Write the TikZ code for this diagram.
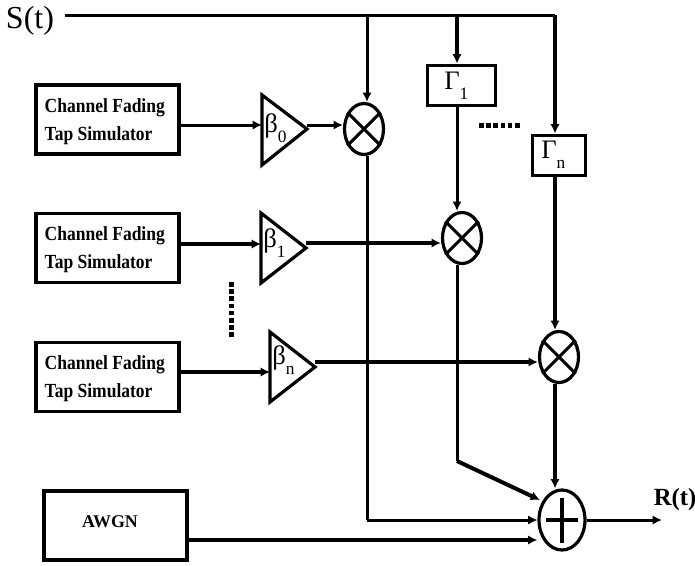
\documentclass[tikz,border=0pt]{standalone}
\usepackage{fontspec}
\setmainfont{Liberation Serif}
\usetikzlibrary{arrows.meta,shapes.geometric,calc}
\newdimen\px \px=0.75pt
\newcommand{\sbs}[1]{\raisebox{-0.38em}{\fontsize{13}{13}\selectfont #1}}
\tikzset{
  conn/.style={line width=3\px, line join=miter},
  heavy/.style={line width=4\px},
  arr/.style={-{Latex[length=7pt,width=7pt]}},
  tapbox/.style={draw, line width=3.2\px, minimum width=143\px, minimum height=69\px, inner sep=0pt},
  tapname/.style={font=\fontsize{15}{21}\selectfont\bfseries, align=left, inner sep=0pt, anchor=west, xscale=0.875, transform shape},
  gainbox/.style={draw, line width=3\px, inner sep=0pt},
  mult/.style={draw, ellipse, line width=3.2\px, inner sep=0pt, minimum width=39\px, minimum height=51\px},
  gain/.style={draw, line width=3.2\px, line join=miter},
  gainlab/.style={font=\fontsize{20}{20}\selectfont, inner sep=0pt, anchor=west},
  dotted line/.style={line width=5\px, dash pattern=on 4.6\px off 2.6\px},
}
\begin{document}
\begin{tikzpicture}[x=0.75pt,y=-0.75pt]
\useasboundingbox (0,0) rectangle (695,565);
\clip (0,0) rectangle (695,565);
% Boxes
\node[tapbox] (t0) at (107.5,119.5) {};
\node[tapbox] (t1) at (107.5,248) {};
\node[tapbox] (t2) at (107.5,377) {};
\node[tapbox] (awgn) at (115.5,525.5) {};
\node[tapname] (t0l) at (44.5,122) {Channel Fading\\Tap Simulator};
\node[tapname] (t1l) at (44.5,250) {Channel Fading\\Tap Simulator};
\node[tapname] (t2l) at (44.5,379) {Channel Fading\\Tap Simulator};
\node[font=\fontsize{13.4}{13.4}\selectfont\bfseries, inner sep=0pt] (awgnl) at (110,522) {AWGN};
\node[gainbox, minimum width=68\px, minimum height=40\px] (g1) at (461,85) {};
\node[gainbox, minimum width=53\px, minimum height=40\px] (gn) at (558.5,155) {};
\node[gainlab] (g1l) at (444,86) {Γ\sbs{1}};
\node[gainlab] (gnl) at (541,155) {Γ\sbs{n}};
% Amplifier triangles
\coordinate (b0a) at (262,95); \coordinate (b0b) at (262,165); \coordinate (b0t) at (307,129);
\coordinate (b1a) at (261,213); \coordinate (b1b) at (261,283); \coordinate (b1t) at (306,248);
\coordinate (b2a) at (270,332); \coordinate (b2b) at (270,402); \coordinate (b2t) at (315,367);
\draw[gain] (b0a) -- (b0t) -- (b0b) -- cycle;
\draw[gain] (b1a) -- (b1t) -- (b1b) -- cycle;
\draw[gain] (b2a) -- (b2t) -- (b2b) -- cycle;
\node[gainlab] (b0l) at (264,128) {β\sbs{0}};
\node[gainlab] (b1l) at (263,243) {β\sbs{1}};
\node[gainlab] (b2l) at (272,360) {β\sbs{n}};
% Multipliers
\node[mult] (m0) at (364,129) {};
\node[mult] (m1) at (462,238) {};
\node[mult] (m2) at (559,357) {};
\draw[conn] (m0.45) -- (m0.225) (m0.135) -- (m0.315);
\draw[conn] (m1.45) -- (m1.225) (m1.135) -- (m1.315);
\draw[conn] (m2.45) -- (m2.225) (m2.135) -- (m2.315);
% Summer
\node[mult, minimum width=46\px, minimum height=60\px] (sum) at (562,520) {};
\draw[line width=4.6\px] ($(sum.center)+(-16,0)$) -- ($(sum.center)+(16,0)$);
\draw[line width=4.6\px] ($(sum.center)+(0,-22)$) -- ($(sum.center)+(0,23)$);
% Labels
\node[font=\fontsize{24}{24}\selectfont, inner sep=0pt] (st) at (30,21) {S(t)};
\node[font=\fontsize{18.5}{18.5}\selectfont\bfseries, inner sep=0pt] (rt) at (675,500) {R(t)};
% Named junctions
\coordinate (s0) at (65,15);
\coordinate (j0) at (367,15);
\coordinate (j1) at (457,15);
\coordinate (j2) at (555,15);
\coordinate (bend0) at (367,520);
\coordinate (bend1) at (457,461);
\coordinate (hit1) at (540,500);
\coordinate (out) at (662,520);
% Connectors
\draw[conn] (s0) -- (j2);
\draw[heavy,arr] (j2) -- (j2 |- gn.north);
\draw[heavy,arr] (j1) -- (j1 |- g1.north);
\draw[conn,arr] (j0) -- (j0 |- m0.north);
\draw[conn,arr] (j1 |- g1.south) -- (j1 |- m1.north);
\draw[heavy,arr] (j2 |- gn.south) -- (j2 |- m2.north);
\draw[heavy,arr] (j2 |- m2.south) -- (j2 |- sum.north);
\draw[conn] (j0 |- m0.south) -- (bend0);
\draw[conn,arr] (bend0) -- (sum.west);
\draw[conn] (j1 |- m1.south) -- (bend1);
\draw[heavy,arr] (bend1) -- (hit1);
\draw[heavy,arr] (awgn.east |- 0,540) -- (sum.west |- 0,540);
\draw[conn,arr] (sum.east) -- (out);
\draw[conn,arr] (t0.east |- 0,125) -- (b0a |- 0,125);
\draw[conn,arr] (b0t |- 0,125) -- (m0.west |- 0,125);
\draw[heavy,arr] (t1.east |- 0,244) -- (b1a |- 0,244);
\draw[heavy,arr] (b1t |- 0,243) -- (m1.west |- 0,243);
\draw[heavy,arr] (t2.east |- 0,372) -- (b2a |- 0,372);
\draw[heavy,arr] (b2t |- 0,362) -- (m2.west |- 0,362);
% Ellipsis dots
\coordinate (d0) at (479,125); \coordinate (d1) at (522,125);
\coordinate (d2) at (231,282); \coordinate (d3) at (231,338);
\draw[dotted line] (d0) -- (d1);
\draw[dotted line] (d2) -- (d3);
\end{tikzpicture}
\end{document}
